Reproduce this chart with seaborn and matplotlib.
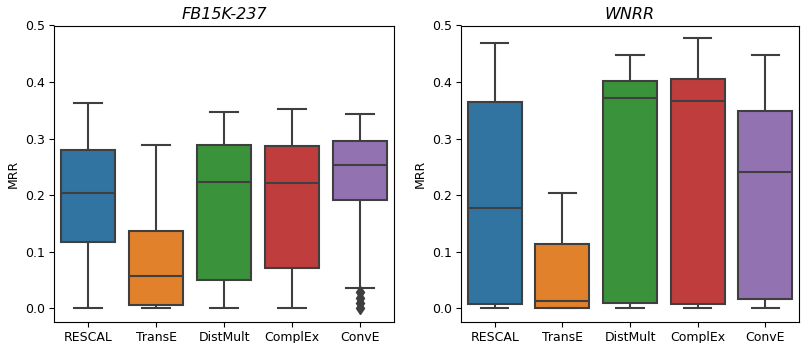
import matplotlib
matplotlib.use("Agg")
import matplotlib.pyplot as plt
import pandas as pd
import seaborn as sns

models = ["RESCAL", "TransE", "DistMult", "ComplEx", "ConvE"]

# MRR of the runs per model (FB15K-237)
fb_rescal = [0.000, 0.117, 0.204, 0.280, 0.363]
fb_transe = [0.000, 0.006, 0.058, 0.137, 0.289]
fb_distmult = [0.000, 0.0495, 0.224, 0.288, 0.348]
fb_complex = [0.000, 0.071, 0.222, 0.287, 0.352]
fb_conve = [0.000, 0.009, 0.019, 0.029, 0.036,
            0.191, 0.205, 0.220, 0.232, 0.245,
            0.254, 0.262, 0.270, 0.279, 0.287,
            0.295, 0.305, 0.318, 0.328, 0.337, 0.344]

# MRR of the runs per model (WNRR)
wn_rescal = [0.000, 0.007, 0.1775, 0.365, 0.469]
wn_transe = [0.000, 0.001, 0.013, 0.114, 0.2035]
wn_distmult = [0.000, 0.010, 0.372, 0.402, 0.448]
wn_complex = [0.000, 0.0076, 0.367, 0.405, 0.478]
wn_conve = [0.000, 0.0165, 0.241, 0.349, 0.448]

datasets = {
    "FB15K-237": [fb_rescal, fb_transe, fb_distmult, fb_complex, fb_conve],
    "WNRR": [wn_rescal, wn_transe, wn_distmult, wn_complex, wn_conve],
}


def long_form(runs):
    rows = []
    for name, vals in zip(models, runs):
        rows += [(name, v) for v in vals]
    return pd.DataFrame(rows, columns=["model", "MRR"])


W, H = 801, 343
fig = plt.figure(figsize=(W / 100, H / 100), dpi=100)
boxes = [(54, 394), (461, 799)]
top, bottom = 25.5, 322

for (x0, x1), (title, runs) in zip(boxes, datasets.items()):
    ax = fig.add_axes([x0 / W, (H - bottom) / H, (x1 - x0) / W, (bottom - top) / H])
    sns.boxplot(data=long_form(runs), x="model", y="MRR", hue="model",
                order=models, hue_order=models, palette="tab10",
                saturation=0.75, width=0.8, linewidth=1.5,
                linecolor="#3f3f3f", fliersize=6.5,
                flierprops=dict(marker="d", markerfacecolor="#3f3f3f",
                                markeredgecolor="#3f3f3f"),
                legend=False, ax=ax)
    ax.set_ylim(-0.024, 0.5)
    ax.set_xlabel("")
    ax.set_ylabel("MRR", fontsize=9)
    ax.set_title(title, fontsize=11.5, style="italic", pad=5)
    ax.tick_params(labelsize=9, pad=3)

fig.savefig("out.png", dpi=100)
